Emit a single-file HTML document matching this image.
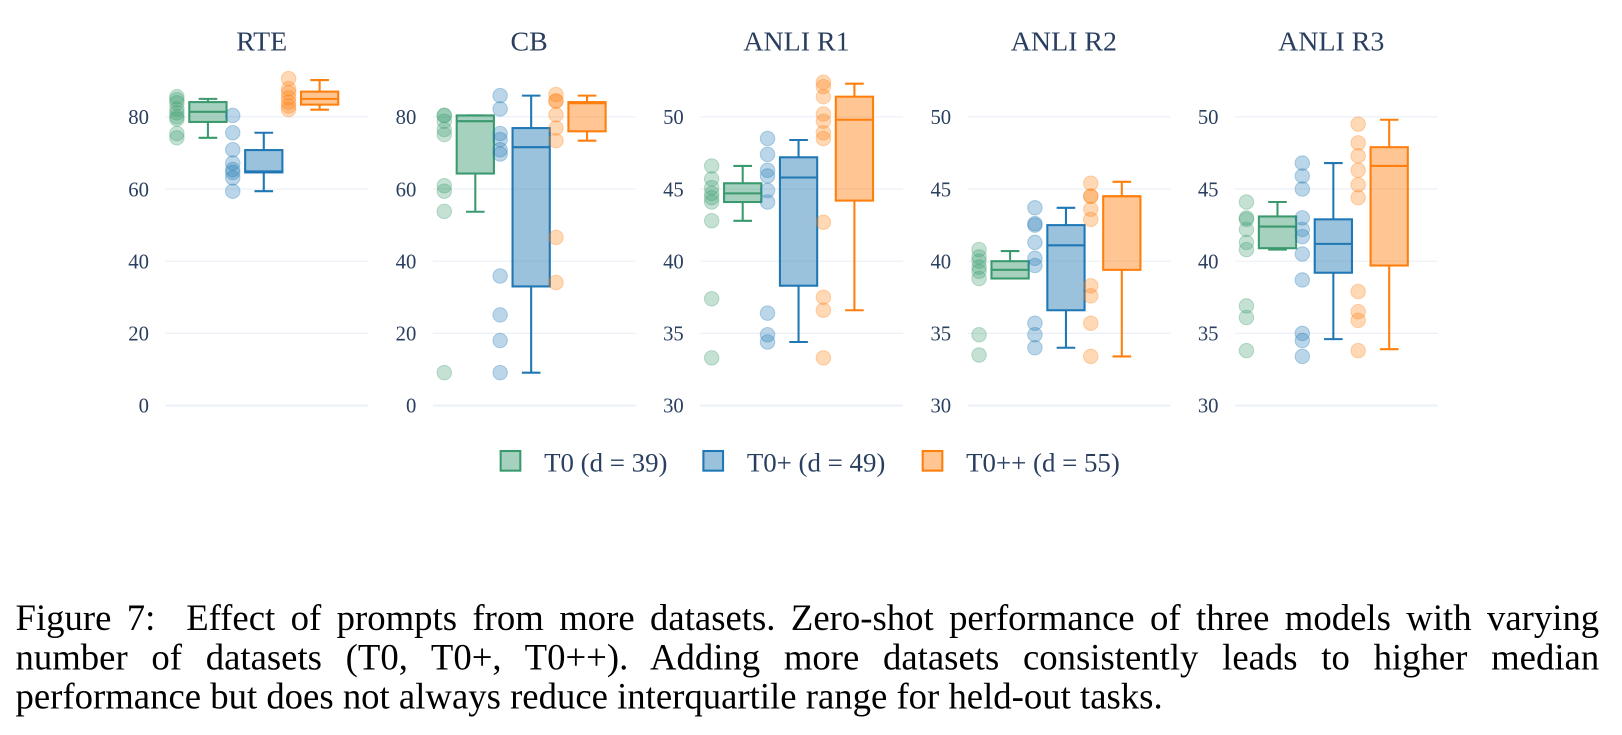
<!DOCTYPE html>
<html><head><meta charset="utf-8"><style>
body{margin:0;background:#fff;width:1622px;height:735px;overflow:hidden;position:relative;font-family:"Liberation Serif",serif}
#wrap{position:absolute;left:0;top:0;width:1568px;height:711px;transform:scale(1.0344);transform-origin:0 0}
#cap{position:absolute;left:15px;top:578px;width:1531px;font-size:35.5px;line-height:38px;text-align:justify;color:#000}
</style></head><body>
<div id="wrap">
<svg id="chart" width="1568" height="520" style="position:absolute;left:0;top:0" font-family="Liberation Serif, serif"></svg>
<div id="cap">Figure 7:&nbsp; Effect of prompts from more datasets. Zero-shot performance of three models with varying number of datasets (T0, T0+, T0++). Adding more datasets consistently leads to higher median performance but does not always reduce interquartile range for held-out tasks.</div>
</div>
<script>
const panels=["RTE","CB","ANLI R1","ANLI R2","ANLI R3"];
const models=["T0 (d = 39)","T0+ (d = 49)","T0++ (d = 55)"];
const yTicks=[[0,20,40,60,80],[0,20,40,60,80],[30,35,40,45,50],[30,35,40,45,50],[30,35,40,45,50]];
const yRange=[[0,80],[0,80],[30,50],[30,50],[30,50]];
// points per panel per model
const pts=[
 [[85.6,84.8,83.9,82.2,81.1,80,79.4,75.4,74.2],[80.4,75.6,70.9,67.2,65.4,64.6,63.1,59.4],[90.6,87.8,86.7,85.3,84.1,83,82]],
 [[80.4,80.4,78.8,76.5,75.1,60.9,59.4,53.8,9.1],[85.9,82.2,75.4,73.7,70.9,69.7,35.9,25.1,18,9.1],[86.2,84.4,84.4,80.6,76.9,73.4,46.6,34.1]],
 [[46.6,45.7,45.1,44.7,44.4,44.1,42.8,37.4,33.3],[48.5,47.4,46.3,45.9,44.9,44.1,36.4,34.9,34.4],[52.4,52.1,51.4,50.2,49.7,48.9,48.5,42.7,37.5,36.6,33.3]],
 [[40.8,40.3,40,39.6,39.3,38.8,34.9,33.5],[43.7,42.6,42.5,41.3,40.2,39.7,35.7,34.9,34],[45.4,44.5,44.5,43.6,42.9,38.3,37.6,35.7,33.4]],
 [[44.1,43,42.9,42.2,41.3,40.8,36.9,36.1,33.8],[46.8,45.9,45,43,42.2,41.7,40.5,38.7,35,34.5,33.4],[49.5,48.2,47.3,46.3,45.3,44.4,37.9,36.5,35.9,33.8]]
];
// [lowWhisker,q1,median,q3,highWhisker]
const boxes=[
 [[74.2,78.6,81.4,84.1,85],[59.4,64.6,64.9,70.8,75.6],[82,83.4,85,87,90.2]],
 [[53.7,64.3,78.8,80.4,80.4],[9.1,33,71.6,76.9,85.9],[73.4,76,83.8,84.1,85.9]],
 [[42.8,44.1,44.7,45.4,46.6],[34.4,38.3,45.8,47.2,48.4],[36.6,44.2,49.8,51.4,52.3]],
 [[38.8,38.8,39.4,40,40.7],[34,36.6,41.1,42.5,43.7],[33.4,39.4,44.5,44.5,45.5]],
 [[40.8,40.9,42.4,43.1,44.1],[34.6,39.2,41.2,42.9,46.8],[33.9,39.7,46.6,47.9,49.8]]
];
const colors=["#3a9a6e","#1f77b4","#ff7f0e"];
const NS="http://www.w3.org/2000/svg";
const svg=document.getElementById("chart");
function mk(tag,attrs,parent){const e=document.createElementNS(NS,tag);for(const k in attrs)e.setAttribute(k,attrs[k]);(parent||svg).appendChild(e);return e;}
const yTop=113,yBot=392;
panels.forEach((name,p)=>{
  const x0=160+p*258.5,w=196;
  const g=mk("g",{});
  
  
  const [lo,hi]=yRange[p];
  const ys=v=>yBot-(v-lo)/(hi-lo)*(yBot-yTop);
  const t=mk("text",{x:x0+w/2-5,y:49,"text-anchor":"middle","font-size":"27",fill:"#2a3f5f"},g);
  t.textContent=name;
  
  
  yTicks[p].forEach(v=>{
    const l=mk("line",{x1:x0,x2:x0+w,y1:ys(v),y2:ys(v),stroke:"#ebf0f8","stroke-width":v===lo?2:1.2},g);
    
    
    const tl=mk("text",{x:x0-16,y:ys(v)+7,"text-anchor":"end","font-size":"20",fill:"#2a3f5f"},g);
    tl.textContent=v;
    
    
  });
  models.forEach((m,k)=>{
    const c=colors[k];const px=x0+11+k*54;const bc=x0+41+k*54;const bw=36;
    pts[p][k].forEach(v=>{
      const ci=mk("circle",{cx:px,cy:ys(v),r:7,fill:c,"fill-opacity":0.3,stroke:c,"stroke-opacity":0.3},g);
      
      
    });
    const [wl,q1,md,q3,wh]=boxes[p][k];
    const bg=mk("g",{stroke:c,"stroke-width":2,fill:"none"},g);
    
    
    mk("line",{x1:bc,x2:bc,y1:ys(wh),y2:ys(q3)},bg);
    mk("line",{x1:bc,x2:bc,y1:ys(q1),y2:ys(wl)},bg);
    mk("line",{x1:bc-9,x2:bc+9,y1:ys(wh),y2:ys(wh)},bg);
    mk("line",{x1:bc-9,x2:bc+9,y1:ys(wl),y2:ys(wl)},bg);
    mk("rect",{x:bc-bw/2,y:ys(q3),width:bw,height:Math.max(1,ys(q1)-ys(q3)),fill:c,"fill-opacity":0.45},bg);
    mk("line",{x1:bc-bw/2,x2:bc+bw/2,y1:ys(md),y2:ys(md)},bg);
  });
});
const legX=[484,680,892];
models.forEach((m,k)=>{
  const lg=mk("g",{});
  
  
  mk("rect",{x:legX[k],y:436,width:19,height:19,fill:colors[k],"fill-opacity":0.45,stroke:colors[k],"stroke-width":2},lg);
  const tx=mk("text",{x:legX[k]+42,y:456,"font-size":"26",fill:"#2a3f5f"},lg);
  tx.textContent=m;
});
</script>
</body></html>
